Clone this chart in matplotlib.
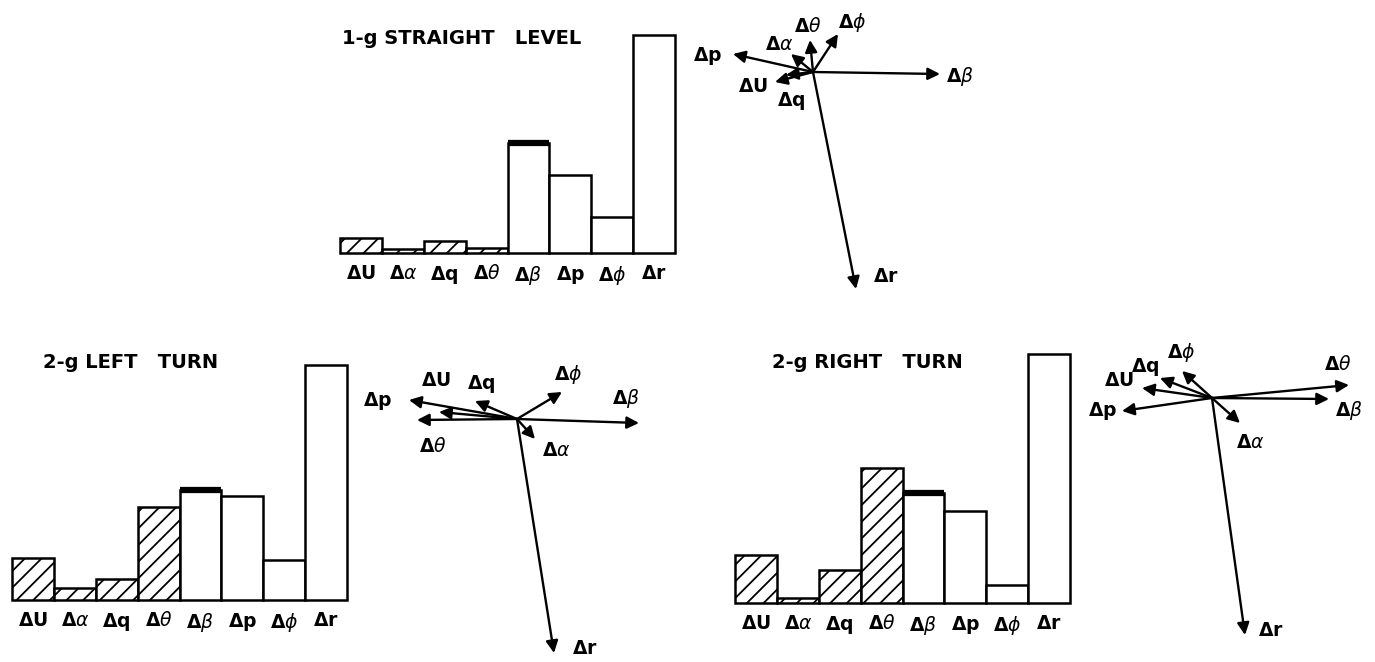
import numpy as np
import matplotlib.pyplot as plt

plt.rcParams["font.family"] = "DejaVu Sans"
plt.rcParams["mathtext.fontset"] = "custom"
plt.rcParams["mathtext.rm"] = "DejaVu Sans:bold"
plt.rcParams["mathtext.bf"] = "DejaVu Sans:bold"
plt.rcParams["mathtext.it"] = "DejaVu Sans:italic"
plt.rcParams["hatch.linewidth"] = 1.3

W, H = 1375, 662

# state variables, same order for bars and vectors
variables = [r"$\Delta\mathrm{U}$", r"$\Delta\alpha$", r"$\Delta\mathrm{q}$", r"$\Delta\theta$",
             r"$\Delta\beta$", r"$\Delta\mathrm{p}$", r"$\Delta\phi$", r"$\Delta\mathrm{r}$"]
hatched = [True, True, True, True, False, False, False, False]

titles = ["1-g STRAIGHT   LEVEL", "2-g LEFT   TURN", "2-g RIGHT   TURN"]

# bar magnitudes (normalised to d-beta = 1)
straight_bars = [0.14, 0.04, 0.11, 0.05, 1.0, 0.71, 0.33, 1.98]
left_bars = [0.38, 0.11, 0.19, 0.85, 1.0, 0.95, 0.36, 2.14]
right_bars = [0.44, 0.05, 0.30, 1.23, 1.0, 0.84, 0.16, 2.26]

# eigenvector components (x, y)
straight_vx = [-38, -22, -27, -3, 127, -80, 25, 43]
straight_vy = [-10, 18, -3, 32, -2, 18, 38, -217]
left_vx = [-78, 18, -42, -100, 122, -108, 45, 37]
left_vy = [7, -20, 18, -1, -4, 19, 27, -234]
right_vx = [-70, 28, -52, 137, 117, -90, -30, 33]
right_vy = [10, -25, 20, 13, -1, -13, 27, -237]

# layout (pixels)
bar_left = [340, 12, 735]
bar_base = [253, 600, 603]
title_pos = [(342, 39), (43, 362), (772, 363)]
vec_origin = [(813, 72), (517, 419), (1212, 398)]
label_off = [
    [(-22, -4), (-12, 10), (5, -26), (-2, 14), (20, -2), (-25, -2), (14, 12), (30, 12)],
    [(-3, 31), (21, -11), (6, 17), (16, -27), (-13, 24), (-31, -1), (6, 18), (31, 5)],
    [(-23, 7), (10, -20), (-15, 11), (-11, 21), (20, -12), (-19, 0), (-1, 19), (26, 5)],
]
px_per_unit = 110
ymax = 2.4

fig = plt.figure(figsize=(W / 100, H / 100), dpi=100)

panels = [
    (straight_bars, straight_vx, straight_vy),
    (left_bars, left_vx, left_vy),
    (right_bars, right_vx, right_vy),
]

for i, (bars, vx, vy) in enumerate(panels):
    # bar chart
    ax = fig.add_axes([bar_left[i] / W, (H - bar_base[i]) / H,
                       335 / W, ymax * px_per_unit / H])
    x = np.arange(len(bars))
    for j in range(len(bars)):
        ax.bar(x[j], bars[j], width=1.0, facecolor="white", edgecolor="black",
               linewidth=1.8, hatch="//" if hatched[j] else None, clip_on=False)
    ax.hlines(bars[4], x[4] - 0.5, x[4] + 0.5, color="black", linewidth=4.5, clip_on=False)
    ax.set_xlim(-0.5, 7.5)
    ax.set_ylim(0, ymax)
    ax.set_xticks(x, variables)
    ax.tick_params(axis="x", length=0, pad=8, labelsize=13.5)
    ax.set_yticks([])
    for s in ax.spines.values():
        s.set_visible(False)
    ax.patch.set_visible(False)
    tx, ty = title_pos[i]
    fig.text(tx / W, 1 - ty / H, titles[i], fontsize=14, fontweight="bold",
             ha="left", va="center")

    # vector diagram
    ox, oy = vec_origin[i]
    vax = fig.add_axes([(ox - 170) / W, (H - oy - 260) / H, 340 / W, 330 / H])
    vax.set_xlim(-170, 170)
    vax.set_ylim(-260, 70)
    vax.axis("off")
    for j in range(len(vx)):
        vax.annotate("", xy=(vx[j], vy[j]), xytext=(0, 0),
                     arrowprops=dict(arrowstyle="-|>", color="black", lw=1.7,
                                     mutation_scale=18, shrinkA=0, shrinkB=0))
        dx, dy = label_off[i][j]
        vax.text(vx[j] + dx, vy[j] + dy, variables[j], fontsize=13.5,
                 ha="center", va="center")

fig.savefig("out.png", dpi=100)
